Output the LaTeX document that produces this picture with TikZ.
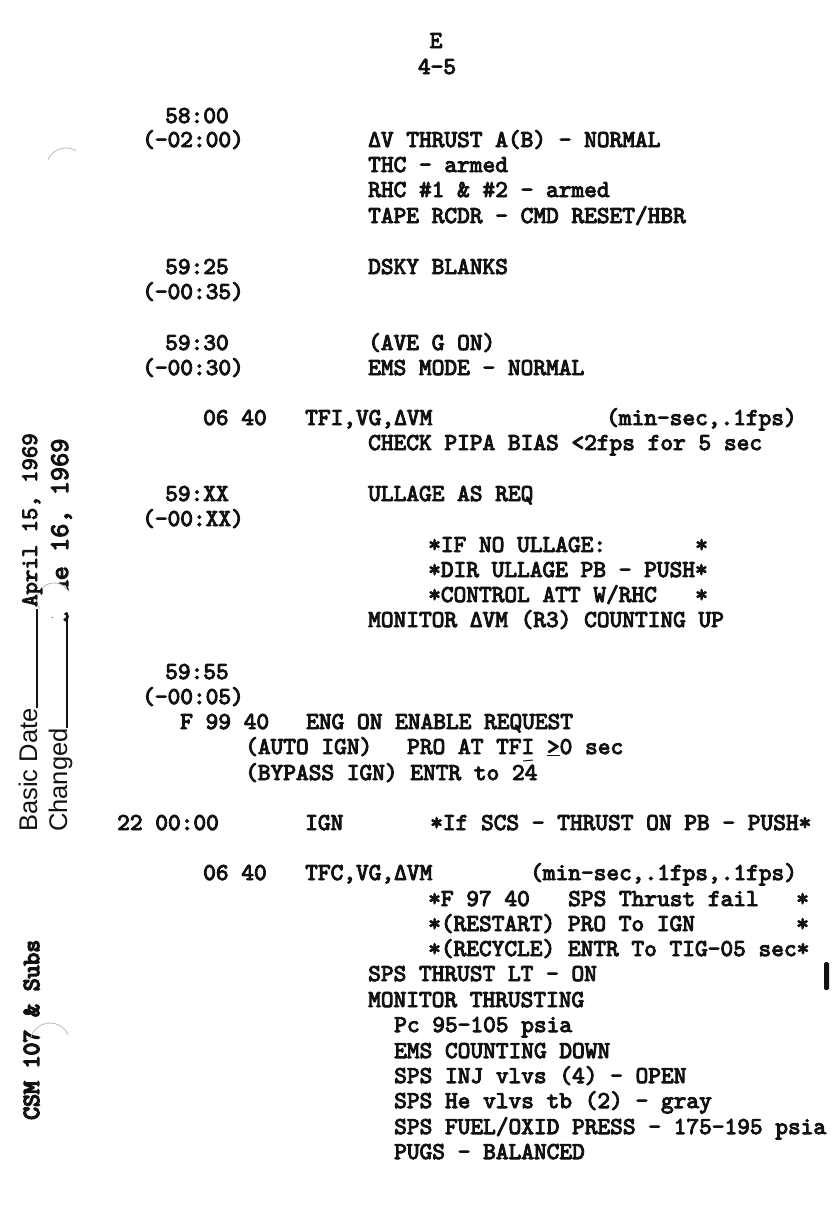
\documentclass[tikz,border=0pt]{standalone}
\usepackage{fontspec}
\newfontfamily\tw{lmmono10-regular.otf}[FakeBold=4]
\newfontfamily\twb{lmmono10-regular.otf}[FakeBold=6]
\newfontfamily\sfa{Liberation Sans}
\definecolor{ink}{gray}{0.07}
\definecolor{holegray}{gray}{0.72}
\tikzset{
  tw/.style={font=\tw\fontsize{24.2}{26}\selectfont, anchor=base west, inner sep=0pt, text=ink},
  twc/.style={tw, anchor=base},
  side/.style={font=\tw\fontsize{23.6}{26}\selectfont, anchor=base west, inner sep=0pt, rotate=90, text=ink},
  sidewide/.style={side, font=\tw\fontsize{27}{28}\selectfont},
  sidebold/.style={font=\twb\fontsize{24.5}{26}\selectfont, anchor=base west, inner sep=0pt, rotate=90, text=ink},
  sidesans/.style={font=\sfa\fontsize{25.5}{26}\selectfont, anchor=base west, inner sep=0pt, rotate=90, text=ink},
  rule/.style={draw=ink, line width=1.3pt},
  hole/.style={draw=holegray, line width=0.8pt}
}
\begin{document}
\begin{tikzpicture}[x=1pt,y=-1pt]
\useasboundingbox (0,0) rectangle (833,1221);
\fill[white] (0,0) rectangle (833,1221);

% header
\node[twc] (hE) at (436,48) {E};
\node[twc] (hP) at (437,74) {4-5};

% 58:00 block
\node[tw] (t1) at (165,123) {58:00};
\node[tw] (t1b) at (142,147) {(-02:00)};
\node[tw] (a1) at (368,147) {ΔV THRUST A(B) - NORMAL};
\node[tw] (a2) at (368,172) {THC - armed};
\node[tw] (a3) at (368,197) {RHC \#1 \& \#2 - armed};
\node[tw] (a4) at (368,223) {TAPE RCDR - CMD RESET/HBR};

% 59:25
\node[tw] (t2) at (165,274) {59:25};
\node[tw] (b1) at (368,274) {DSKY BLANKS};
\node[tw] (t2b) at (142,299) {(-00:35)};

% 59:30
\node[tw] (t3) at (165,350) {59:30};
\node[tw] (c1) at (368,350) {(AVE G ON)};
\node[tw] (t3b) at (142,375) {(-00:30)};
\node[tw] (c2) at (368,375) {EMS MODE - NORMAL};

\node[tw] (v1) at (203,425) {06 40};
\node[tw] (v1a) at (305,425) {TFI,VG,ΔVM};
\node[tw] (v1b) at (606,425) {(min-sec,.1fps)};
\node[tw] (v1c) at (368,450) {CHECK PIPA BIAS <2fps for 5 sec};

% 59:XX
\node[tw] (t4) at (165,501) {59:XX};
\node[tw] (d1) at (368,501) {ULLAGE AS REQ};
\node[tw] (t4b) at (142,526) {(-00:XX)};
\node[tw] (d2) at (428,552) {*IF NO ULLAGE:};
\node[tw] (d2s) at (695,552) {*};
\node[tw] (d3) at (428,577) {*DIR ULLAGE PB - PUSH*};
\node[tw] (d4) at (428,602) {*CONTROL ATT W/RHC};
\node[tw] (d4s) at (695,602) {*};
\node[tw] (d5) at (368,627) {MONITOR ΔVM (R3) COUNTING UP};

% 59:55
\node[tw] (t5) at (165,679) {59:55};
\node[tw] (t5b) at (142,704) {(-00:05)};
\node[tw] (e1) at (180,729) {F 99 40};
\node[tw] (e1a) at (306,729) {ENG ON ENABLE REQUEST};
\node[tw] (e2) at (245,754) {(AUTO IGN)};
\node[tw] (e2a) at (407,754) {PRO AT TFI \underline{>}0 sec};
\node[tw] (e3) at (245,780) {(BYPASS IGN) ENTR to 24};
\coordinate (m1) at (523,761);
\coordinate (m2) at (533,760);
\draw[draw=ink, line width=1pt] (m1) -- (m2);

% IGN
\node[tw] (t6) at (117,830) {22 00:00};
\node[tw] (f1) at (305,830) {IGN};
\node[tw] (f1a) at (430,830) {*If SCS - THRUST ON PB - PUSH*};

\node[tw] (v2) at (203,880) {06 40};
\node[tw] (v2a) at (305,880) {TFC,VG,ΔVM};
\node[tw] (v2b) at (530,880) {(min-sec,.1fps,.1fps)};
\node[tw] (g1) at (428,906) {*F 97 40};
\node[tw] (g1a) at (568,906) {SPS Thrust fail};
\node[tw] (g1s) at (796,906) {*};
\node[tw] (g2) at (428,931) {*(RESTART) PRO To IGN};
\node[tw] (g2s) at (796,931) {*};
\node[tw] (g3) at (428,956) {*(RECYCLE) ENTR To TIG-05 sec*};
\node[tw] (h1) at (368,981) {SPS THRUST LT - ON};
\node[tw] (h2) at (368,1007) {MONITOR THRUSTING};
\node[tw] (h3) at (394,1032) {Pc 95-105 psia};
\node[tw] (h4) at (394,1058) {EMS COUNTING DOWN};
\node[tw] (h5) at (394,1083) {SPS INJ vlvs (4) - OPEN};
\node[tw] (h6) at (394,1108) {SPS He vlvs tb (2) - gray};
\node[tw] (h7) at (394,1134) {SPS FUEL/OXID PRESS - 175-195 psia};
\node[tw] (h8) at (394,1159) {PUGS - BALANCED};

% right margin mark
\fill[ink, rounded corners=1.5pt] (824,962) rectangle (829,990);

% left margin, rotated
\node[sidesans] (bd) at (37,832) {Basic Date};
\coordinate (bdend) at (37,609);
\draw[rule] (bd.base east) -- (bdend);
\node[sidesans] (ch) at (67,832) {Changed};
\coordinate (chend) at (67,614);
\draw[rule] (ch.base east) -- (chend);
\node[sidewide] (chv) at (68,623) {June 16, 1969};
\node[sidebold] (csm) at (39,1120) {CSM 107 \& Subs};

% punch holes
\fill[white] (54,600) circle (17);
\draw[hole] (54,600) ++(148:17) arc (148:315:17);
\draw[hole] (66,168) ++(-155:20) arc (-155:-60:20);
\draw[hole] (50,1043) ++(-167:20) arc (-167:-25:20);

\node[side] (bdv) at (37,607) {April 15, 1969};
\end{tikzpicture}
\end{document}
